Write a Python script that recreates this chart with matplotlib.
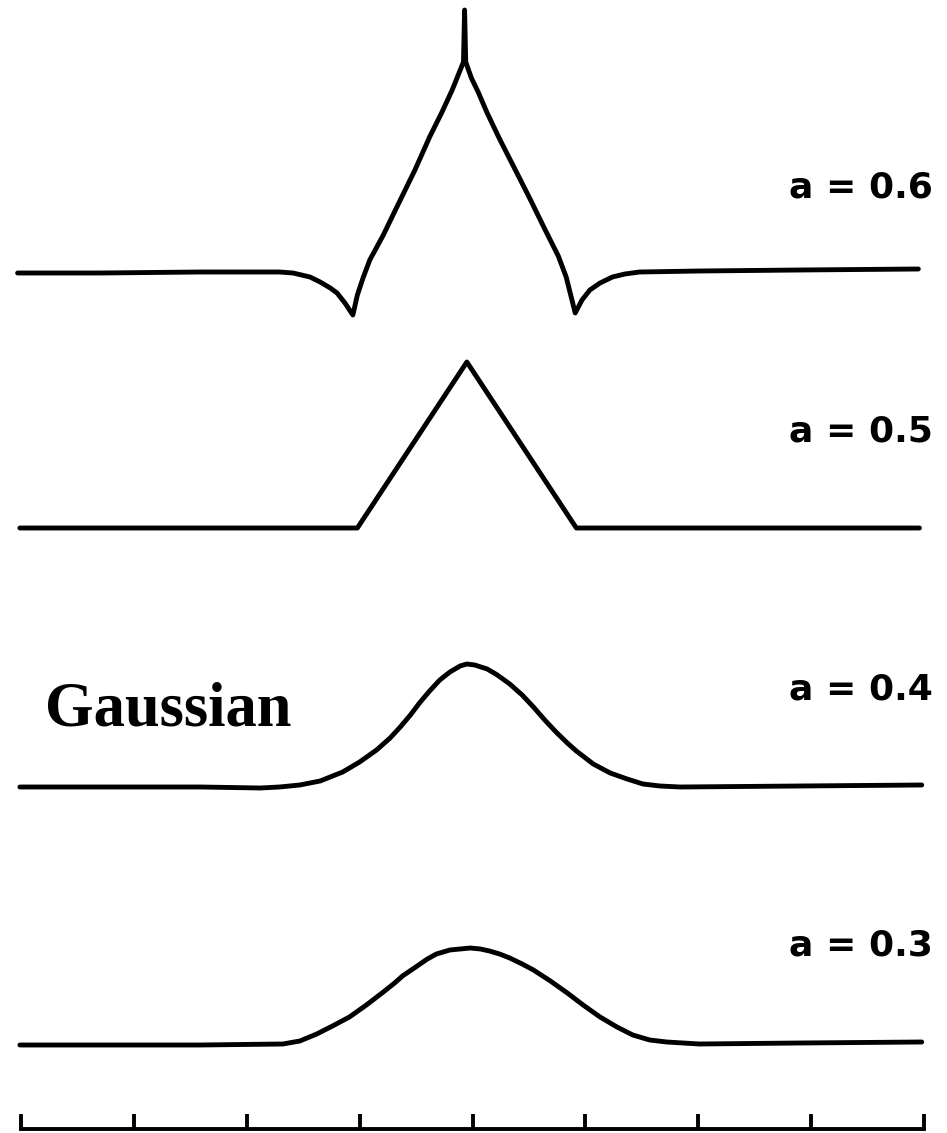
import numpy as np
import matplotlib
matplotlib.use('Agg')
import matplotlib.pyplot as plt

# profiles: x in tick units, y = height above each curve's own baseline
labels = ['a = 0.6', 'a = 0.5', 'a = 0.4', 'a = 0.3']
baselines = [8.58, 6.01, 3.42, 0.85]

x_06 = [-0.03, 0.70, 1.59, 2.29, 2.41, 2.56, 2.65, 2.74, 2.80, 2.87, 2.94, 2.98, 3.03,
        3.09, 3.21, 3.33, 3.49, 3.62, 3.73, 3.82, 3.87, 3.92, 3.93, 3.94, 3.99, 4.05,
        4.13, 4.24, 4.38, 4.51, 4.64, 4.76, 4.83, 4.87, 4.91, 4.97, 5.04, 5.13, 5.24,
        5.35, 5.48, 6.01, 6.90, 7.95]
y_06 = [-0.02, -0.02, -0.01, -0.01, -0.02, -0.06, -0.11, -0.17, -0.22, -0.32, -0.44, -0.24, -0.07,
        0.11, 0.36, 0.64, 1.01, 1.34, 1.59, 1.81, 1.95, 2.09, 2.61, 2.09, 1.93, 1.79,
        1.58, 1.32, 1.01, 0.72, 0.42, 0.15, -0.06, -0.24, -0.42, -0.29, -0.19, -0.12, -0.06,
        -0.03, -0.01, 0.00, 0.01, 0.02]

x_05 = [-0.01, 2.98, 3.95, 4.92, 7.96]
y_05 = [0.00, 0.00, 1.66, 0.00, 0.00]

x_04 = [-0.01, 1.59, 2.12, 2.29, 2.47, 2.65, 2.85, 3.00, 3.15, 3.27, 3.36, 3.45, 3.53,
        3.62, 3.71, 3.80, 3.89, 3.95, 4.02, 4.13, 4.22, 4.33, 4.44, 4.54, 4.64, 4.74,
        4.84, 4.92, 5.07, 5.22, 5.37, 5.51, 5.66, 5.84, 6.90, 7.98]
y_04 = [0.00, 0.00, -0.01, 0.00, 0.02, 0.06, 0.15, 0.25, 0.37, 0.49, 0.60, 0.72, 0.84,
        0.96, 1.07, 1.15, 1.21, 1.23, 1.22, 1.18, 1.12, 1.03, 0.92, 0.80, 0.67, 0.55,
        0.44, 0.36, 0.23, 0.14, 0.08, 0.03, 0.01, 0.00, 0.01, 0.02]

x_03 = [-0.01, 1.59, 2.32, 2.47, 2.62, 2.76, 2.91, 3.06, 3.21, 3.31, 3.38, 3.51, 3.60,
        3.68, 3.80, 3.89, 3.98, 4.07, 4.15, 4.24, 4.33, 4.44, 4.54, 4.69, 4.84, 4.98,
        5.13, 5.28, 5.42, 5.57, 5.72, 6.01, 6.90, 7.98]
y_03 = [-0.01, -0.01, 0.00, 0.03, 0.10, 0.18, 0.27, 0.39, 0.52, 0.61, 0.68, 0.78, 0.85,
        0.90, 0.94, 0.95, 0.96, 0.95, 0.93, 0.90, 0.86, 0.80, 0.74, 0.63, 0.51, 0.39,
        0.27, 0.17, 0.09, 0.04, 0.02, 0.00, 0.01, 0.02]

xs = [x_06, x_05, x_04, x_03]
ys = [y_06, y_05, y_04, y_03]
label_y = [9.42, 6.97, 4.39, 1.84]
ticks = np.arange(0, 9)

fig = plt.figure(figsize=(9.47, 11.33), dpi=100)
ax = fig.add_axes([21 / 947, 4 / 1133, 903 / 947, 1129 / 1133])
ax.set_xlim(0, 8)
ax.set_ylim(0, 11.29)

for x, y, base, lab, ly in zip(xs, ys, baselines, labels, label_y):
    ax.plot(x, np.array(y) + base, color='black', lw=3.5,
            solid_joinstyle='round', solid_capstyle='round', clip_on=False)
    ax.text(8.08, ly, lab, ha='right', va='center', fontsize=26,
            fontweight='bold', family='DejaVu Sans', clip_on=False)

ax.text(0.21, 4.04, 'Gaussian', ha='left', va='baseline', fontsize=45,
        fontweight='bold', family='Liberation Serif')

for side in ['left', 'right', 'top']:
    ax.spines[side].set_visible(False)
ax.spines['bottom'].set_linewidth(2.8)
ax.set_yticks([])
ax.set_xticks(ticks)
ax.tick_params(axis='x', direction='in', length=11, width=2.8, labelbottom=False)
ax.patch.set_alpha(0)

fig.savefig('out.png', dpi=100)
